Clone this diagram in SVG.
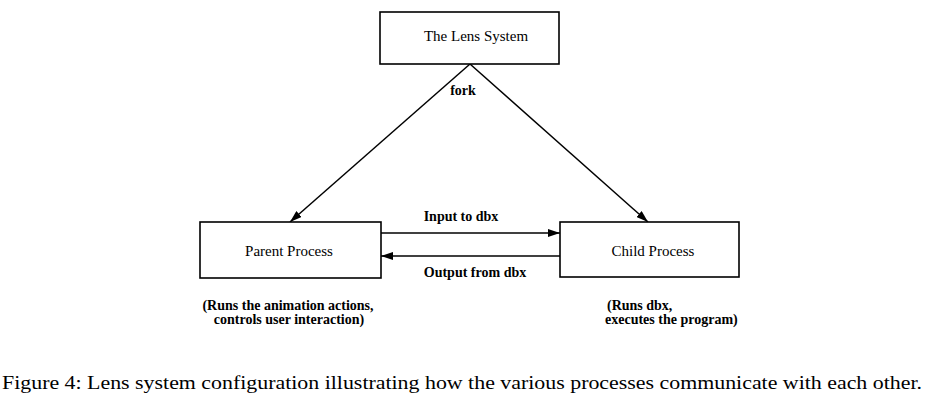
<svg xmlns="http://www.w3.org/2000/svg" width="938" height="403" viewBox="0 0 938 403">
<style>
.box{fill:#fff;stroke:#000;stroke-width:1.6}
.lbl{font-size:15px;fill:#000;text-anchor:middle}
.bl{font-size:14px;font-weight:bold;fill:#000}
.edge{fill:none;stroke:#000;stroke-width:1.5}
.cap{font-size:18px;fill:#000}
</style>
<defs>
<marker id="ah" viewBox="0 0 12 8" refX="12" refY="4" markerWidth="12" markerHeight="8" markerUnits="userSpaceOnUse" orient="auto">
<path d="M0,0 L12,4 L0,8 Z" fill="#000"/>
</marker>
</defs>
<g font-family="Liberation Serif, DejaVu Serif, serif">
<g id="connectors">
<line class="edge" x1="470" y1="64" x2="290" y2="222" marker-end="url(#ah)"/>
<line class="edge" x1="470" y1="64" x2="648" y2="222" marker-end="url(#ah)"/>
<line class="edge" x1="381" y1="233" x2="560" y2="233" marker-end="url(#ah)"/>
<line class="edge" x1="560" y1="256" x2="381" y2="256" marker-end="url(#ah)"/>
<text class="bl" x="463" y="95" text-anchor="middle">fork</text>
<text class="bl" x="461" y="221" text-anchor="middle">Input to dbx</text>
<text class="bl" x="475" y="277" text-anchor="middle">Output from dbx</text>
</g>
<g id="lens">
<rect class="box" x="380" y="12" width="179" height="52"/>
<text class="lbl" x="476" y="41">The Lens System</text>
</g>
<g id="parent">
<rect class="box" x="200" y="222" width="181" height="56"/>
<text class="lbl" x="289" y="256">Parent Process</text>
<text class="bl" x="288" y="310" text-anchor="middle">(Runs the animation actions,</text>
<text class="bl" x="289" y="324" text-anchor="middle">controls user interaction)</text>
</g>
<g id="child">
<rect class="box" x="560" y="222" width="179" height="55"/>
<text class="lbl" x="653" y="256">Child Process</text>
<text class="bl" x="607" y="310">(Runs dbx,</text>
<text class="bl" x="605" y="324">executes the program)</text>
</g>
<text class="cap" x="2" y="389" textLength="920" lengthAdjust="spacingAndGlyphs">Figure 4: Lens system configuration illustrating how the various processes communicate with each other.</text>
</g>
</svg>
